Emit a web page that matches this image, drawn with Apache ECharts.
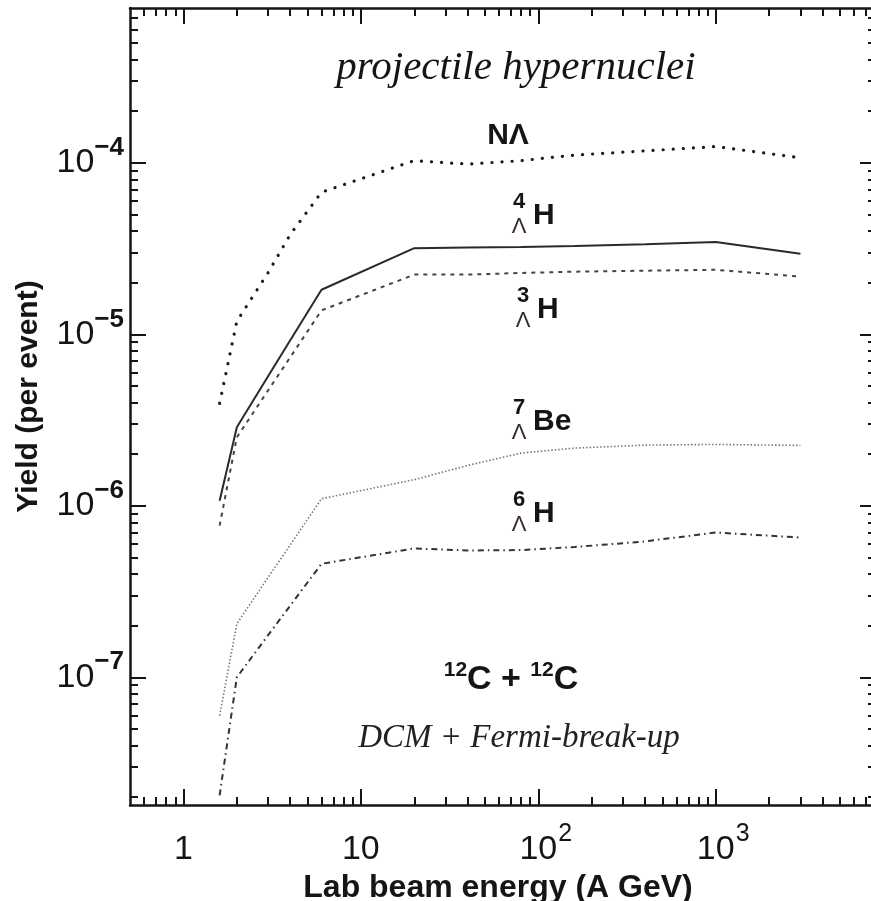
<!DOCTYPE html>
<html>
<head>
<meta charset="utf-8">
<script src="https://cdn.jsdelivr.net/npm/echarts@6/dist/echarts.min.js"></script>
<style>
  html, body { margin: 0; padding: 0; background: #fff; }
  #chart { width: 871px; height: 901px; }
</style>
</head>
<body>
<div id="chart"></div>
<script>
// beam energies (A GeV)
const energies = [1.6, 2, 3, 4, 6, 20, 40, 80, 160, 400, 1000, 3000];

// yields per event
const yieldNLambda = [3.96e-6, 1.19e-5, 2.29e-5, 3.82e-5, 6.74e-5, 1.03e-4, 9.84e-5, 1.03e-4, 1.11e-4, 1.175e-4, 1.245e-4, 1.07e-4];
const yieldH4 = [1.07e-6, 2.87e-6, 5.7e-6, 9.23e-6, 1.82e-5, 3.18e-5, 3.21e-5, 3.23e-5, 3.27e-5, 3.35e-5, 3.45e-5, 2.95e-5];
const yieldH3 = [7.67e-7, 2.51e-6, 4.71e-6, 7.35e-6, 1.38e-5, 2.23e-5, 2.23e-5, 2.28e-5, 2.32e-5, 2.35e-5, 2.38e-5, 2.17e-5];
const yieldBe7 = [5.98e-8, 2.05e-7, 3.82e-7, 5.92e-7, 1.1e-6, 1.42e-6, 1.72e-6, 2.03e-6, 2.17e-6, 2.26e-6, 2.28e-6, 2.25e-6];
const yieldH6 = [2.05e-8, 1.0e-7, 1.76e-7, 2.62e-7, 4.59e-7, 5.64e-7, 5.49e-7, 5.52e-7, 5.75e-7, 6.2e-7, 6.99e-7, 6.53e-7];

// axes
const xRange = [0.5, 8000];
const yRange = [1.8e-8, 8e-4];
const xMajor = [1, 10, 100, 1000];
const yMajor = [1e-7, 1e-6, 1e-5, 1e-4];

const lg = Math.log10;
const SANS = "'Liberation Sans', Arial, sans-serif";
const SERIF = "'Liberation Serif', 'Times New Roman', serif";
const INK = '#151515';

// minor ticks 2..9 per decade (in log space)
function minorTicks(lo, hi) {
    const out = [];
    for (let e = Math.floor(lg(lo)); e <= Math.ceil(lg(hi)); e++) {
        for (let k = 2; k <= 9; k++) {
            const v = k * Math.pow(10, e);
            if (v > lo * 1.0001 && v < hi * 0.9999) out.push(lg(v));
        }
    }
    return out;
}
const xMinor = minorTicks(xRange[0], xRange[1]);
const yMinor = minorTicks(yRange[0], yRange[1]);

const toPairs = (vals) => energies.map((e, i) => [lg(e), lg(vals[i])]);

const xLabelRich = {
    b: { fontFamily: SANS, fontSize: 34, color: INK, lineHeight: 56, verticalAlign: 'middle' },
    s: { fontFamily: SANS, fontSize: 25, color: INK, lineHeight: 22, verticalAlign: 'top', width: 16 },
    p: { width: 16, lineHeight: 22 },
};
const yLabelRich = {
    b: { fontFamily: SANS, fontSize: 34, color: INK, lineHeight: 56, verticalAlign: 'middle' },
    s: { fontFamily: SANS, fontSize: 26, fontWeight: 'bold', color: INK, lineHeight: 22, verticalAlign: 'top' },
};

function xAxisDef(pos, major) {
    const ax = {
        type: 'value',
        position: pos,
        min: lg(xRange[0]),
        max: lg(xRange[1]),
        axisLine: { show: major, onZero: false, lineStyle: { color: INK, width: 2.5 } },
        axisTick: {
            show: true, inside: true, length: major ? 16 : 8,
            customValues: major ? xMajor.map(lg) : xMinor,
            lineStyle: { color: INK, width: 2 },
        },
        axisLabel: { show: false },
        splitLine: { show: false },
    };
    if (major && pos === 'bottom') {
        ax.axisLabel = {
            show: true,
            customValues: xMajor.map(lg),
            margin: 17,
            formatter: (v) => {
                const e = Math.round(v);
                if (e === 0) return '{b|1}';
                if (e === 1) return '{b|10}';
                return '{p|}{b|10}{s|' + e + '}';
            },
            rich: xLabelRich,
        };
        ax.name = 'Lab beam energy (A GeV)';
        ax.nameLocation = 'middle';
        ax.nameGap = 62;
        ax.nameTextStyle = { fontFamily: SANS, fontSize: 32, fontWeight: 'bold', color: INK, padding: [0, 10, 0, 0] };
    }
    return ax;
}

function yAxisDef(pos, major) {
    const ax = {
        type: 'value',
        position: pos,
        min: lg(yRange[0]),
        max: lg(yRange[1]),
        axisLine: { show: major, onZero: false, lineStyle: { color: INK, width: 2.5 } },
        axisTick: {
            show: true, inside: true, length: major ? 16 : 8,
            customValues: major ? yMajor.map(lg) : yMinor,
            lineStyle: { color: INK, width: 2 },
        },
        axisLabel: { show: false },
        splitLine: { show: false },
    };
    if (major && pos === 'left') {
        ax.axisLabel = {
            show: true,
            customValues: yMajor.map(lg),
            margin: 6,
            formatter: (v) => '{b|10}{s|\u2212' + (-Math.round(v)) + '}',
            rich: yLabelRich,
        };
        ax.name = 'Yield (per event)';
        ax.nameLocation = 'middle';
        ax.nameGap = 86;
        ax.nameTextStyle = { fontFamily: SANS, fontSize: 30, fontWeight: 'bold', color: INK, padding: [0, 0, 0, 20] };
    }
    return ax;
}

function lineSeries(name, vals, lineStyle) {
    return {
        name: name,
        type: 'line',
        xAxisIndex: 0,
        yAxisIndex: 0,
        data: toPairs(vals),
        symbol: 'none',
        silent: true,
        lineStyle: lineStyle,
    };
}

// annotation text helpers
function txt(x, y, text, font, color) {
    return { type: 'text', x: x, y: y, silent: true,
        style: { text: text, font: font, fill: color || INK, align: 'center', verticalAlign: 'middle' } };
}
function nucleus(x, y, mass, sym) {
    // mass number above, Lambda below, symbol to the right
    return [
        txt(x, y - 14, mass, 'bold 22px ' + SANS),
        txt(x, y + 11, '\u039B', '22px ' + SANS, '#3a2a2a'),
        { type: 'text', x: x + 14, y: y, silent: true,
          style: { text: sym, font: 'bold 30px ' + SANS, fill: INK, align: 'left', verticalAlign: 'middle' } },
    ];
}

const chart = echarts.init(document.getElementById('chart'));

const option = {
    animation: false,
    backgroundColor: '#fff',
    grid: { left: 130, top: 8, right: -5, bottom: 96, containLabel: false, outerBoundsMode: 'none' },
    xAxis: [xAxisDef('bottom', true), xAxisDef('bottom', false), xAxisDef('top', true), xAxisDef('top', false)],
    yAxis: [yAxisDef('left', true), yAxisDef('left', false), yAxisDef('right', true), yAxisDef('right', false)],
    series: [
        lineSeries('N\u039B', yieldNLambda, { color: '#1a1a1a', width: 3.2, type: [0.1, 10], cap: 'round' }),
        lineSeries('4LH', yieldH4, { color: '#2a2a2a', width: 2 }),
        lineSeries('3LH', yieldH3, { color: '#444', width: 2, type: [4, 5] }),
        lineSeries('7LBe', yieldBe7, { color: '#777', width: 1.6, type: [1.5, 2] }),
        lineSeries('6LH', yieldH6, { color: '#333', width: 2, type: [6, 4, 1.5, 4] }),
    ],
    graphic: [
        txt(516, 68, 'projectile hypernuclei', 'italic 41px ' + SERIF),
        txt(508, 136, 'N\u039B', 'bold 30px ' + SANS),
        ...nucleus(519, 216, '4', 'H'),
        ...nucleus(523, 310, '3', 'H'),
        ...nucleus(519, 422, '7', 'Be'),
        ...nucleus(519, 514, '6', 'H'),
        {
            type: 'text', x: 511, y: 680, silent: true,
            style: {
                text: '{u|12}{c|C + }{u|12}{c|C}',
                align: 'center', verticalAlign: 'middle',
                rich: {
                    c: { font: 'bold 34px ' + SANS, fill: INK, lineHeight: 40, verticalAlign: 'middle' },
                    u: { font: 'bold 21px ' + SANS, fill: INK, lineHeight: 22, verticalAlign: 'top' },
                },
            },
        },
        txt(519, 738, 'DCM + Fermi-break-up', 'italic 33px ' + SERIF, '#222'),
    ],
};

chart.setOption(option);
</script>
</body>
</html>
